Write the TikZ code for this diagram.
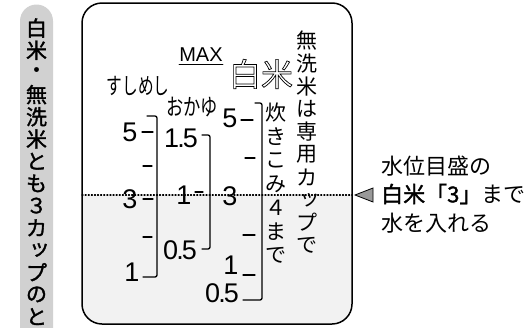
\documentclass[tikz,border=0pt]{standalone}
\usepackage{fontspec}
\setmainfont{Noto Sans CJK JP}
\newfontfamily\jpbold[FakeBold=1.5]{Noto Sans CJK JP}
\newfontfamily\numf{Liberation Sans}
\newcommand\smallk[1]{\raisebox{1.5pt}{\kern3pt #1\kern-3pt}}
\newcommand\hollow[1]{\special{pdf:literal direct 1 Tr 0.7 w}#1\special{pdf:literal direct 0 Tr}}
\begin{document}
\begin{tikzpicture}[x=1pt,y=-1pt,line cap=round,
  pilltxt/.style={inner sep=0,font=\jpbold\fontsize{21}{21}\selectfont},
  vtxt/.style={inner sep=0,font=\fontsize{21}{21}\selectfont},
  rtxt/.style={inner sep=0,anchor=west,font=\fontsize{22}{22}\selectfont},
  kana/.style={inner sep=0,font=\fontsize{23}{23}\selectfont},
  num/.style={inner sep=0,font=\numf\fontsize{27}{27}\selectfont},
  tick/.style={line width=1.3pt},
  brk/.style={line width=1.3pt,rounded corners=2pt},
  box/.style={line width=1.5pt,rounded corners=20pt}]
\useasboundingbox (0,0) rectangle (529,327);
% left pill
\fill[black!18] (20,335) -- (20,21) arc[start angle=180,end angle=360,radius=16.5] -- (53,335) -- cycle;
\foreach \c [count=\i from 0] in {白,米,・,無,洗,米,と,も,３,カ,\smallk{ッ},プ,の,と}
  \node[pilltxt] (p\i) at (36.5,28+22.2*\i) {\c};
% main box with stippled water
\begin{scope}
  \clip[rounded corners=20pt] (82,3) rectangle (352,324);
  \fill[black!5] (82,195) rectangle (352,324);
\end{scope}
\draw[box] (82,3) rectangle (352,324);
\coordinate (wl) at (82,195);
\coordinate (wr) at (352,195);
\draw[dotted,line width=1.1pt] (wl) -- (wr);
% pointer triangle
\draw[fill=black!40,line width=0.8pt] (355,195) -- (373,188) -- (373,202) -- cycle;
% right text
\node[rtxt] (r1) at (381,166) {水位目盛の};
\node[rtxt] (r2) at (381,194) {{\jpbold 白米「3」}まで};
\node[rtxt] (r3) at (381,223) {水を入れる};
% headers
\node[inner sep=0,font=\numf\fontsize{20}{20}\selectfont] (max) at (201,55) {MAX};
\draw[line width=1pt] ([yshift=-2.5pt]max.south west) -- ([yshift=-2.5pt]max.south east);
\node[inner sep=0,font=\fontsize{32}{32}\selectfont] (hakumai) at (261,74) {\hollow{白米}};
\node[kana,xscale=0.68] (sushi) at (138,86) {すしめし};
\node[kana,xscale=0.75] (kayu) at (192,107) {おかゆ};
% scale 1
\node[num] (a5) at (130,132) {5};
\node[num] (a3) at (130,199) {3};
\node[num] (a1) at (132,272) {1};
\draw[tick] (142,132) -- (153,132);
\draw[tick] (143,166) -- (152,166);
\draw[tick] (143,199) -- (153,199);
\draw[tick] (143,237) -- (152,237);
\draw[brk] (147,116) -- (157,116) -- (157,277) -- (143,277);
% scale 2
\node[num] (b15) at (181,138) {1\kern-2pt.\kern-2pt5};
\node[num] (b1) at (184,195) {1};
\node[num] (b05) at (180,250) {0\kern-2pt.\kern-2pt5};
\draw[tick] (195,192) -- (203,192);
\draw[brk] (202,135) -- (210,135) -- (210,249) -- (202,249);
% scale 3
\node[num] (c5) at (230,118) {5};
\node[num] (c3) at (230,196) {3};
\node[num] (c1) at (231,265) {1};
\node[num] (c05) at (222,293) {0\kern-2pt.\kern-2pt5};
\draw[tick] (241,120) -- (253,120);
\draw[tick] (245,158) -- (255,158);
\draw[tick] (243,235) -- (255,235);
\draw[tick] (243,275) -- (255,275);
\draw[brk] (255,103) -- (262,103) -- (262,300) -- (243,300);
% vertical texts
\foreach \c [count=\i from 0] in {炊,き,こ,み,４,ま,で}
  \node[vtxt] (t\i) at (276,113+23.8*\i) {\c};
\foreach \c [count=\i from 0] in {無,洗,米,は,専,用,カ,\smallk{ッ},プ,で}
  \node[vtxt] (m\i) at (307,41+22.7*\i) {\c};
\end{tikzpicture}
\end{document}
